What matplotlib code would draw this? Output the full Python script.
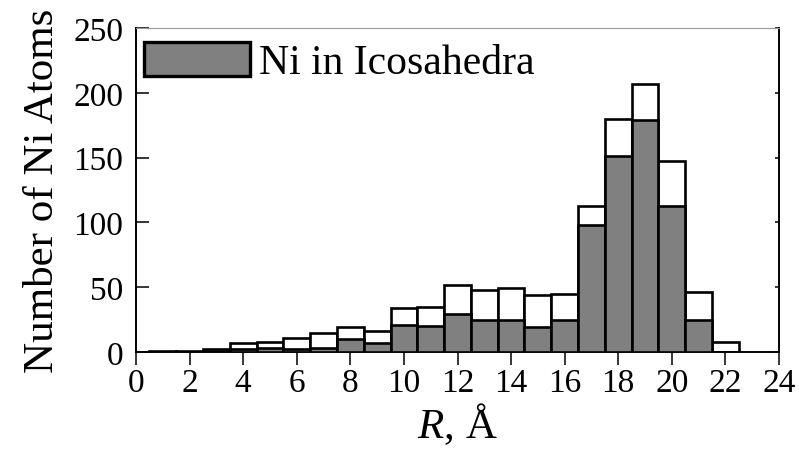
import matplotlib
matplotlib.use("Agg")
import matplotlib.pyplot as plt
import numpy as np

# Data
r_centers = [1, 2, 3, 4, 5, 6, 7, 8, 9, 10, 11, 12, 13, 14, 15, 16, 17, 18, 19, 20, 21, 22]
total_ni = [1, 1, 2, 7, 8, 11, 15, 19, 16, 34, 35, 52, 48, 49, 44, 45, 113, 180, 207, 147, 46, 8]
ni_icosahedra = [0, 0, 1, 2, 3, 2, 3, 10, 7, 21, 20, 29, 25, 25, 19, 25, 98, 151, 179, 113, 25, 0]
x_ticks = list(range(0, 25, 2))
y_ticks = [0, 50, 100, 150, 200, 250]

plt.rcParams['font.family'] = ['Liberation Serif', 'DejaVu Serif']
plt.rcParams['mathtext.fontset'] = 'custom'
plt.rcParams['mathtext.it'] = 'Liberation Serif:italic'
plt.rcParams['mathtext.rm'] = 'Liberation Serif'

fig = plt.figure(figsize=(7.99, 4.52), dpi=100)
ax = fig.add_axes([136/799, 1 - 353/452, (779-136)/799, (353-29)/452])

ax.bar(r_centers, total_ni, width=1.0, color='white', edgecolor='black', linewidth=1.9, zorder=2)
ax.bar(r_centers, ni_icosahedra, width=1.0, color='#808080', edgecolor='black', linewidth=1.9, zorder=3,
       label='Ni in Icosahedra')

ax.set_xlim(0, 24)
ax.set_ylim(0, 250)
ax.set_xticks(x_ticks)
ax.set_yticks(y_ticks)

ax.tick_params(axis='x', direction='out', length=9, width=1.1, labelsize=24, pad=2, top=False)
ax.tick_params(axis='y', direction='in', length=9, width=1.1, labelsize=24, pad=9, right=True)
for t in ax.yaxis.get_major_ticks():
    t.tick2line.set_markersize(3)
for s in ['left', 'bottom', 'right']:
    ax.spines[s].set_linewidth(1.4)
ax.spines['top'].set_linewidth(0.8)
ax.spines['top'].set_color('#999999')

ax.set_ylabel('Number of Ni Atoms', fontsize=31, labelpad=8)
ax.set_xlabel(r'$R$, Å', fontsize=31, labelpad=2)

leg = ax.legend(loc='upper left', bbox_to_anchor=(0.012, 0.958), frameon=False, fontsize=30,
                handlelength=2.54, handleheight=0.89, handletextpad=0.22, borderpad=0, borderaxespad=0)
for h in leg.legend_handles:
    h.set_linewidth(2.4)

fig.savefig('out.png', dpi=100)
